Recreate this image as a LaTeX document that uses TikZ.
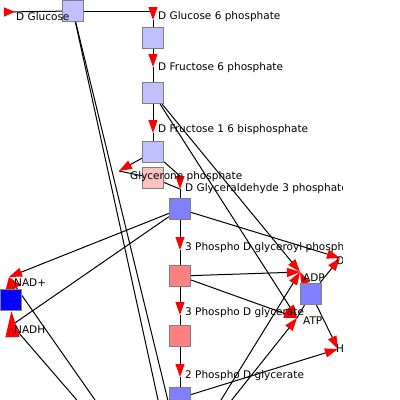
\documentclass[tikz,border=0pt]{standalone}
\usepackage{fontspec}
\setmainfont{DejaVu Sans}
\usepackage{tikz}
\usetikzlibrary{arrows.meta, calc, backgrounds}
\definecolor{rxnpale}{HTML}{C0C0FF}
\definecolor{rxnmid}{HTML}{8080FF}
\definecolor{rxndeep}{HTML}{0000FF}
\definecolor{rxnrose}{HTML}{FFC0C0}
\definecolor{rxnsalmon}{HTML}{FF8080}

\begin{document}
\begin{tikzpicture}[
          x=1pt, y=-1pt,
          font=\fontsize{10.5}{12}\selectfont,
          rxn/.style={draw=gray, line width=1.2pt, minimum size=21pt, inner sep=0pt},
          lbl/.style={anchor=west, inner sep=0pt},
          link/.style={line width=1pt},
          arrow/.style={link, -{Triangle[length=13pt, width=9pt, color=red]}},
          bigarrow/.style={link, -{Triangle[length=26pt, width=14pt, color=red]}},
          revarrow/.style={link, {Triangle[reversed, length=11pt, width=9pt, color=red]}-}
        ]
          \useasboundingbox (0,0) rectangle (400,400);
          % reaction squares
          \node[rxn, fill=rxnpale] (hk) at (73,11) {};
          \node[rxn, fill=rxnpale] (pgi) at (153,38) {};
          \node[rxn, fill=rxnpale] (pfk) at (153,93) {};
          \node[rxn, fill=rxnpale] (ald) at (153,152) {};
          \node[rxn, fill=rxnrose] (tpi) at (153,178) {};
          \node[rxn, fill=rxnmid] (gapdh) at (180,209) {};
          \node[rxn, fill=rxnsalmon] (pgk) at (180,276) {};
          \node[rxn, fill=rxnsalmon] (pgm) at (180,336) {};
          \node[rxn, fill=rxnmid] (eno) at (180,398) {};
          \node[rxn, fill=rxndeep] (nadrxn) at (11,300) {};
          \node[rxn, fill=rxnmid] (atpase) at (311,294) {};
          % metabolites
          \coordinate (glc) at (4,12);
          \coordinate (g6p) at (153,20);
          \coordinate (f6p) at (153,67);
          \coordinate (fbp) at (153,133);
          \coordinate (dhap) at (119,171);
          \coordinate (gap) at (180,189);
          \coordinate (bpg) at (180,250);
          \coordinate (pg3) at (180,315);
          \coordinate (pg2) at (180,377);
          \coordinate (nad) at (9,277);
          \coordinate (nadh) at (12,325);
          \coordinate (adp) at (300,272);
          \coordinate (atp) at (297,318);
          \coordinate (pi) at (340,258);
          \coordinate (water) at (338,349);
          % ends below the page
          \coordinate (hkout1) at (169,450);
          \coordinate (hkout2) at (180,450);
          \coordinate (pk) at (184,460);
          \coordinate (ldhin) at (130,450);
          \coordinate (ldhout) at (120,450);

          \begin{scope}[on background layer]
            \draw[revarrow] (glc) -- (hk);
            \draw[arrow] (hk) -| (g6p);
            \draw[link] (g6p) -- (pgi);
            \draw[arrow] (pgi) -- (f6p);
            \draw[link] (f6p) -- (pfk);
            \draw[arrow] (pfk) -- (fbp);
            \draw[link] (fbp) -- (ald);
            \draw[arrow] (ald) -- (dhap);
            \draw[arrow] (ald) -- ($(gap)+(0,-13)$) -- (gap);
            \draw[link] (dhap) -- (tpi);
            \draw[link] (tpi) -- (gap);
            \draw[link] (gap) -- (gapdh);
            \draw[arrow] (gapdh) -- (bpg);
            \draw[link] (bpg) -- (pgk);
            \draw[arrow] (pgk) -- (pg3);
            \draw[link] (pg3) -- (pgm);
            \draw[arrow] (pgm) -- (pg2);
            \draw[link] (pg2) -- (eno);
            % cofactors
            \draw[link] (hk) -- (hkout1);
            \draw[link] (hk) -- (hkout2);
            \draw[arrow] (pfk) -- (adp);
            \draw[arrow] (pfk) -- (atp);
            \draw[arrow] (gapdh) -- (nad);
            \draw[link] (gapdh) -- (nadh);
            \draw[arrow] (gapdh) -- (pi);
            \draw[arrow] (pgk) -- (adp);
            \draw[arrow] (pgk) -- (atp);
            \draw[arrow] (eno) -- (water);
            \draw[arrow] (pk) -- (adp);
            \draw[arrow] (pk) -- (atp);
            \draw[arrow] (ldhin) -- (nad);
            \draw[link] (nadh) -- (ldhout);
            \draw[arrow] (nadrxn) -- (nad);
            \draw[bigarrow] (nadh) -- (nadrxn);
            \draw[arrow] (atpase) -- (adp);
            \draw[arrow] (atpase) -- (pi);
            \draw[link] (atp) -- (atpase);
            \draw[arrow] (atpase) -- (water);
          \end{scope}

          % labels
          \begin{scope}
            \clip (0,0) rectangle (342,400);
            \node[lbl] (glclbl) at (16,17) {D Glucose};
            \node[lbl] (g6plbl) at (158,17) {D Glucose 6 phosphate};
            \node[lbl] (f6plbl) at (158,68) {D Fructose 6 phosphate};
            \node[lbl] (fbplbl) at (158,130) {D Fructose 1 6 bisphosphate};
            \node[lbl] (dhaplbl) at (130,177) {Glycerone phosphate};
            \node[lbl] (gaplbl) at (185,189) {D Glyceraldehyde 3 phosphate};
            \node[lbl] (bpglbl) at (185,248) {3 Phospho D glyceroyl phosphate};
            \node[lbl] (pg3lbl) at (185,313) {3 Phospho D glycerate};
            \node[lbl] (pg2lbl) at (185,376) {2 Phospho D glycerate};
            \node[lbl] (nadlbl) at (14,283) {NAD+};
            \node[lbl] (nadhlbl) at (14,330) {NADH};
            \node[lbl] (adplbl) at (303,278) {ADP};
            \node[lbl] (atplbl) at (303,321) {ATP};
            \node[lbl] (pilbl) at (336,262) {Orthophosphate};
            \node[lbl] (waterlbl) at (336,349) {H2O};
          \end{scope}
        \end{tikzpicture}
\end{document}
